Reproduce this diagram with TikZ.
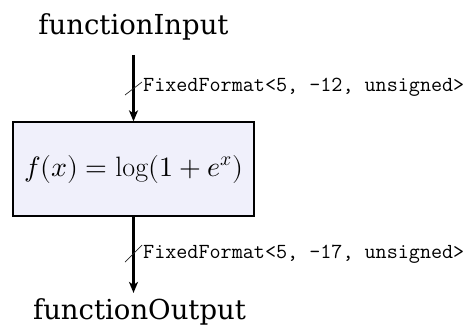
\documentclass[tikz,border=0pt]{standalone}
\usepackage{fontspec}
\usepackage{unicode-math}
\setmathfont{Latin Modern Math}
\newfontfamily\lblfont{DejaVu Serif}
\usetikzlibrary{arrows.meta}
\definecolor{boxfill}{RGB}{240,240,251}
\begin{document}
\begin{tikzpicture}[x=1pt,y=1pt,
  bigtext/.style={font=\lblfont\fontsize{27.5}{30}\selectfont, inner sep=0pt},
  fnbox/.style={draw=black, line width=1.3pt, fill=boxfill, minimum width=241pt, minimum height=94pt, inner sep=0pt, font=\fontsize{28}{30}\selectfont},
  arr/.style={line width=2.4pt, -{Stealth[length=11pt,width=9pt,inset=3pt]}},
  tick/.style={line width=0.7pt, draw=black!85},
  fmt/.style={font=\ttfamily\fontsize{21.5}{24}\selectfont, inner sep=0pt, anchor=base west}]
\useasboundingbox (0,0) rectangle (470,327);
\node[bigtext, anchor=base] (in) at (133.5,292) {functionInput};
\node[fnbox] (box) at (133.5,158) {$f(x) = \log(1+e^x)$};
\node[bigtext, anchor=base] (out) at (139.5,8) {functionOutput};
\coordinate (t1a) at (125,232);
\coordinate (t1b) at (142,245);
\coordinate (t2a) at (125,65);
\coordinate (t2b) at (142,82);
\draw[arr, shorten <=14pt] (in.south -| box.north) -- (box.north);
\draw[arr, shorten >=5pt] (box.south) -- (box.south |- out.north);
\draw[tick] (t1a) -- (t1b);
\draw[tick] (t2a) -- (t2b);
\node[fmt] (l1) at (143,235) {FixedFormat<5, -12, unsigned>};
\node[fmt] (l2) at (143,69) {FixedFormat<5, -17, unsigned>};
\end{tikzpicture}
\end{document}
